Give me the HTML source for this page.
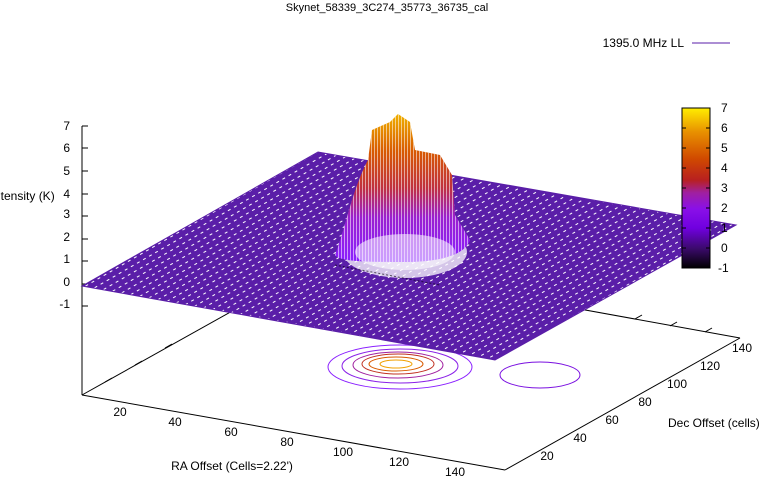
<!DOCTYPE html>
<html><head><style>
html,body{margin:0;padding:0;background:#fff;}
svg{display:block;font-family:"Liberation Sans",sans-serif;font-size:12px;}
</style></head><body>
<svg width="775" height="478" viewBox="0 0 775 478" xmlns="http://www.w3.org/2000/svg">
<defs>
<linearGradient id="cb" x1="0" y1="1" x2="0" y2="0">
<stop offset="0" stop-color="#000000"/>
<stop offset="0.12" stop-color="#3a0a6a"/>
<stop offset="0.25" stop-color="#7000e0"/>
<stop offset="0.37" stop-color="#8a10e8"/>
<stop offset="0.47" stop-color="#a020a0"/>
<stop offset="0.55" stop-color="#b82020"/>
<stop offset="0.68" stop-color="#d04800"/>
<stop offset="0.85" stop-color="#e89000"/>
<stop offset="1" stop-color="#ffee00"/>
</linearGradient>
<linearGradient id="pk" x1="0" y1="1" x2="0" y2="0">
<stop offset="0" stop-color="#8a20ff"/>
<stop offset="0.3" stop-color="#9a20d0"/>
<stop offset="0.5" stop-color="#c03040"/>
<stop offset="0.75" stop-color="#d85a00"/>
<stop offset="1" stop-color="#f0b000"/>
</linearGradient>
<pattern id="dash" width="7" height="6" patternUnits="userSpaceOnUse" patternTransform="rotate(-30)">
<rect width="7" height="6" fill="#5a1ea8"/>
<rect x="1" y="2" width="3" height="1" fill="#fff"/>
</pattern>
<pattern id="pkl" width="3" height="4" patternUnits="userSpaceOnUse">
<rect width="3" height="4" fill="none"/>
<rect x="2" width="1" height="4" fill="#fff" opacity="0.55"/>
</pattern>
</defs>
<text x="387" y="11" text-anchor="middle" font-size="11">Skynet_58339_3C274_35773_36735_cal</text>
<text x="684" y="47" text-anchor="end">1395.0 MHz LL</text>
<line x1="692" y1="43" x2="730" y2="43" stroke="#5a1ea8"/>

<!-- base axes -->
<g stroke="#000" fill="none">
<line x1="82" y1="126" x2="82" y2="395"/>
<line x1="82" y1="395" x2="505" y2="470"/>
<line x1="505" y1="470" x2="740" y2="338"/>
<line x1="82" y1="395" x2="320" y2="262"/>
<line x1="320" y1="262" x2="740" y2="338"/>
</g>
<g stroke="#000">
<line x1="82" y1="126" x2="88" y2="126"/><line x1="82" y1="148" x2="88" y2="148"/>
<line x1="82" y1="171" x2="88" y2="171"/><line x1="82" y1="194" x2="88" y2="194"/>
<line x1="82" y1="216" x2="88" y2="216"/><line x1="82" y1="239" x2="88" y2="239"/>
<line x1="82" y1="261" x2="88" y2="261"/><line x1="82" y1="284" x2="88" y2="284"/>
<line x1="82" y1="306" x2="88" y2="306"/>
<line x1="705" y1="332" x2="712" y2="328"/><line x1="670" y1="326" x2="677" y2="322"/><line x1="635" y1="319" x2="642" y2="315"/>
<line x1="105" y1="382" x2="112" y2="378"/><line x1="135" y1="365" x2="142" y2="361"/><line x1="165" y1="348" x2="172" y2="344"/>
</g>
<g text-anchor="end">
<text x="70" y="130">7</text><text x="70" y="152">6</text><text x="70" y="175">5</text>
<text x="70" y="198">4</text><text x="70" y="218">3</text><text x="70" y="241">2</text>
<text x="70" y="263">1</text><text x="70" y="286">0</text><text x="70" y="308">-1</text>
</g>
<text x="-6" y="200">ntensity (K)</text>

<!-- RA ticks -->
<g text-anchor="middle">
<text x="120" y="416">20</text><text x="175" y="426">40</text><text x="231" y="436">60</text>
<text x="287" y="446">80</text><text x="343" y="456">100</text><text x="399" y="466">120</text><text x="455" y="476">140</text>
</g>
<text x="232" y="470" text-anchor="middle">RA Offset (Cells=2.22')</text>
<g text-anchor="middle">
<text x="547" y="460">20</text><text x="580" y="442">40</text><text x="612" y="424">60</text>
<text x="645" y="406">80</text><text x="677" y="388">100</text><text x="710" y="370">120</text><text x="742" y="352">140</text>
</g>
<text x="668" y="427">Dec Offset (cells)</text>

<!-- contours -->
<g fill="none" stroke-width="1">
<ellipse cx="400" cy="367" rx="72" ry="22" stroke="#8a20ff"/>
<ellipse cx="400" cy="366" rx="58" ry="17" stroke="#8a20e8"/>
<ellipse cx="398" cy="365" rx="45" ry="13" stroke="#a020a0"/>
<ellipse cx="398" cy="364" rx="36" ry="10" stroke="#c03020"/>
<ellipse cx="396" cy="364" rx="27" ry="7" stroke="#d85a00"/>
<ellipse cx="396" cy="364" rx="16" ry="4" stroke="#f0a000"/>
<ellipse cx="540" cy="375" rx="40" ry="13" stroke="#7a10e0"/>
</g>

<!-- surface -->
<polygon points="82,286 318,152 736,225 495,360" fill="url(#dash)"/>
<polygon points="82,286 318,152 736,225 495,360" fill="none" stroke="#5a1ea8"/>
<ellipse cx="405" cy="252" rx="62" ry="26" fill="#fff" opacity="0.75"/>
<!-- peak -->
<path d="M335,255 C345,230 352,190 368,160 L372,130 L390,122 L398,114 L410,122 L415,150 L440,155 L452,175 L455,215 L470,240 C465,255 440,262 405,262 C370,262 340,262 335,255 Z" fill="url(#pk)"/>
<path d="M335,255 C345,230 352,190 368,160 L372,130 L390,122 L398,114 L410,122 L415,150 L440,155 L452,175 L455,215 L470,240 C465,255 440,262 405,262 C370,262 340,262 335,255 Z" fill="url(#pkl)"/>
<ellipse cx="405" cy="252" rx="50" ry="18" fill="#fff" opacity="0.55"/>
<line x1="335" y1="265" x2="440" y2="285" stroke="#000" stroke-dasharray="2,2" opacity="0.6"/>

<!-- colorbar -->
<rect x="682" y="108" width="28" height="160" fill="url(#cb)" stroke="#000"/>
<g stroke="#000">
<line x1="682" y1="128" x2="686" y2="128"/><line x1="706" y1="128" x2="710" y2="128"/>
<line x1="682" y1="148" x2="686" y2="148"/><line x1="706" y1="148" x2="710" y2="148"/>
<line x1="682" y1="168" x2="686" y2="168"/><line x1="706" y1="168" x2="710" y2="168"/>
<line x1="682" y1="188" x2="686" y2="188"/><line x1="706" y1="188" x2="710" y2="188"/>
<line x1="682" y1="208" x2="686" y2="208"/><line x1="706" y1="208" x2="710" y2="208"/>
<line x1="682" y1="228" x2="686" y2="228"/><line x1="706" y1="228" x2="710" y2="228"/>
<line x1="682" y1="248" x2="686" y2="248"/><line x1="706" y1="248" x2="710" y2="248"/>
</g>
<g>
<text x="721" y="112">7</text><text x="721" y="132">6</text><text x="721" y="152">5</text>
<text x="721" y="172">4</text><text x="721" y="192">3</text><text x="721" y="212">2</text>
<text x="721" y="232">1</text><text x="721" y="252">0</text><text x="718" y="272">-1</text>
</g>
</svg>
</body></html>
